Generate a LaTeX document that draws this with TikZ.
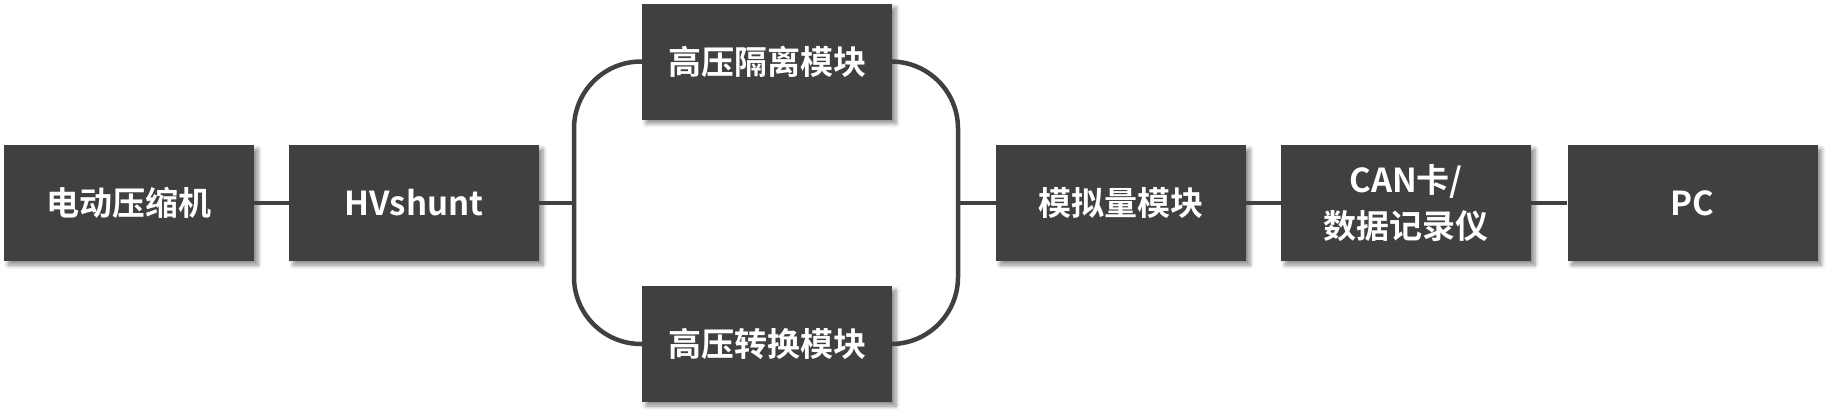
\documentclass[tikz,border=0pt]{standalone}
\usepackage{fontspec}
\setmainfont{Noto Sans CJK SC Bold}
\usetikzlibrary{shadows.blur}
\definecolor{boxgray}{HTML}{404040}
\tikzset{
  blockbox/.style={fill=boxgray, draw=none, minimum width=250pt, minimum height=116pt,
    inner sep=0pt, text=white, align=center,
    font=\fontsize{33}{46}\selectfont,
    blur shadow={shadow xshift=4pt, shadow yshift=-4pt, shadow blur steps=6, shadow opacity=45, shadow blur radius=4pt}},
  wire/.style={draw=boxgray, line width=4.5pt}
}
\begin{document}
\begin{tikzpicture}[x=1pt,y=-1pt]
\useasboundingbox (0,0) rectangle (1830,415);
\node[blockbox] (comp) at (129,203) {电动压缩机};
\node[blockbox] (hv) at (414,203) {HVshunt};
\node[blockbox] (iso) at (767,61.5) {高压隔离模块};
\node[blockbox] (conv) at (767,344) {高压转换模块};
\node[blockbox] (ana) at (1121,203) {模拟量模块};
\node[blockbox] (can) at (1406,203) {CAN卡/\\数据记录仪};
\node[blockbox] (pc) at (1692.5,203) {PC};
\coordinate (jl) at (574,203);
\coordinate (jr) at (958,203);
\draw[wire] (comp.east) -- (hv.west);
\draw[wire] (hv.east) -- (jl);
\draw[wire, rounded corners=67pt] (iso.west) -| (jl) |- (conv.west);
\draw[wire, rounded corners=67pt] (iso.east) -| (jr) |- (conv.east);
\draw[wire] (jr) -- (ana.west);
\draw[wire] (ana.east) -- (can.west);
\draw[wire] (can.east) -- (pc.west);
\end{tikzpicture}
\end{document}
